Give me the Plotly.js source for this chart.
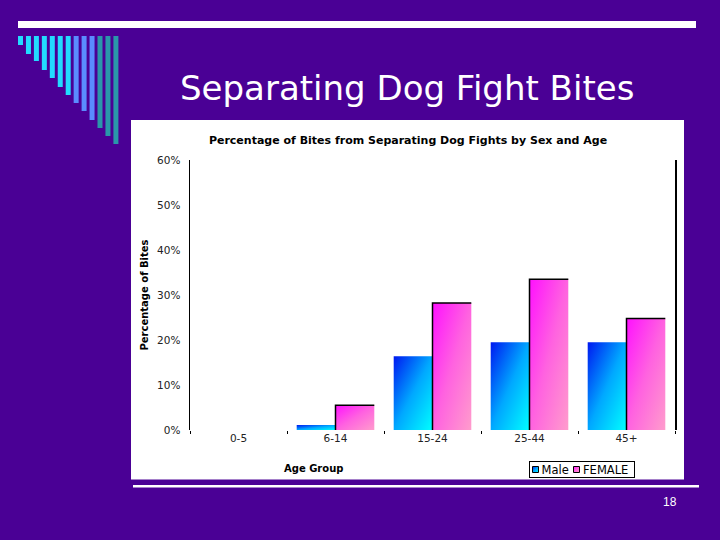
<!DOCTYPE html>
<html>
<head>
<meta charset="utf-8">
<script src="https://cdn.plot.ly/plotly-3.0.1.min.js"></script>
<style>
  html, body { margin: 0; padding: 0; background: #4a0095; }
  #chart { width: 720px; height: 540px; }
</style>
</head>
<body>
<div id="chart"></div>
<script>
// ---- data ----
const categories = ['0-5', '6-14', '15-24', '25-44', '45+'];
const maleValues = [0, 0.011, 0.164, 0.195, 0.195];
const femaleValues = [0, 0.055, 0.282, 0.335, 0.248];
const seriesNames = ['Male', 'FEMALE'];
const slideTitle = 'Separating Dog Fight Bites';
const chartTitle = 'Percentage of Bites from Separating Dog Fights by Sex and Age';
const yAxisTitle = 'Percentage of Bites';
const xAxisTitle = 'Age Group';
const pageNumber = '18';

// ---- layout helpers (pixel -> paper) ----
const L = 190, R = 675, T = 160, B = 430;
const px = x => (x - L) / (R - L);
const py = y => (B - y) / (B - T);

const FONT = 'Liberation Sans, Arial, sans-serif';
const CFONT = 'DejaVu Sans, Liberation Sans, Arial, sans-serif';
const BG = '#4a0095';

const shapes = [];
// white chart box
shapes.push({type: 'rect', xref: 'paper', yref: 'paper', layer: 'below',
  x0: px(131), x1: px(684), y0: py(479.5), y1: py(120),
  fillcolor: '#ffffff', line: {width: 0}});
// top white rule
shapes.push({type: 'rect', xref: 'paper', yref: 'paper',
  x0: px(18), x1: px(696), y0: py(28), y1: py(21),
  fillcolor: '#ffffff', line: {width: 0}});
// bottom white rule
shapes.push({type: 'rect', xref: 'paper', yref: 'paper',
  x0: px(133), x1: px(699), y0: py(487.5), y1: py(485),
  fillcolor: '#ffffff', line: {width: 0}});
// decorative staircase bars
const decoBottoms = [45, 54, 61, 70, 78, 87, 95, 103, 111, 120, 128, 136, 144];
decoBottoms.forEach((bot, i) => {
  const x0 = 18 + i * 7.95;
  const col = i < 7 ? '#22dcff' : (i < 10 ? '#5a8cff' : '#2a96aa');
  shapes.push({type: 'rect', xref: 'paper', yref: 'paper',
    x0: px(x0), x1: px(x0 + 5), y0: py(bot), y1: py(36),
    fillcolor: col, line: {width: 0}});
});

const annotations = [
  {text: slideTitle, xref: 'paper', yref: 'paper', x: px(407), y: py(88),
   xanchor: 'center', yanchor: 'middle', showarrow: false,
   font: {family: CFONT, size: 34, color: '#ffffff'}},
  {text: xAxisTitle, xref: 'paper', yref: 'paper', x: px(313), y: py(468),
   xanchor: 'center', yanchor: 'middle', showarrow: false,
   font: {family: CFONT, size: 10, color: '#000000', weight: 'bold'}},
  {text: pageNumber, xref: 'paper', yref: 'paper', x: px(670), y: py(502),
   xanchor: 'center', yanchor: 'middle', showarrow: false,
   font: {family: FONT, size: 12, color: '#ffffff'}}
];

const data = [
  {type: 'bar', name: seriesNames[0], x: categories, y: maleValues,
   marker: {color: '#0090ff', line: {width: 0}}},
  {type: 'bar', name: seriesNames[1], x: categories, y: femaleValues,
   marker: {color: '#ff60e0', line: {width: 0}}}
];

const layout = {
  width: 720, height: 540,
  paper_bgcolor: BG, plot_bgcolor: '#ffffff',
  margin: {l: L, r: 720 - R, t: T, b: 540 - B, pad: 0},
  font: {family: CFONT, color: '#000'},
  title: {text: chartTitle, xref: 'paper', x: px(408), xanchor: 'center',
    yref: 'container', y: 1 - 140 / 540, yanchor: 'middle',
    font: {family: CFONT, size: 11, color: '#000', weight: 'bold'}},
  barmode: 'group', bargap: 0.2, bargroupgap: 0,
  xaxis: {type: 'category', showgrid: false, zeroline: false, showline: false,
    ticks: 'outside', tickson: 'boundaries', ticklen: 3, tickcolor: '#000', tickwidth: 1,
    tickfont: {family: CFONT, size: 10.5, color: '#222'}, fixedrange: true},
  yaxis: {range: [0, 0.6], dtick: 0.1, tickformat: '.0%', showgrid: false,
    zeroline: false, showline: true, mirror: true, linecolor: '#000', linewidth: 1.5,
    ticks: '', ticklabelstandoff: 6,
    tickfont: {family: CFONT, size: 10.5, color: '#222'},
    title: {text: yAxisTitle, standoff: 6,
      font: {family: CFONT, size: 10, color: '#000', weight: 'bold'}}},
  showlegend: true,
  legend: {orientation: 'h', x: px(634), xanchor: 'right', y: py(461), yanchor: 'top',
    bgcolor: '#ffffff', bordercolor: '#000', borderwidth: 1,
    font: {family: CFONT, size: 11.5, color: '#000'}, itemwidth: 30,
    tracegroupgap: 0},
  shapes: shapes,
  annotations: annotations
};

const gd = document.getElementById('chart');
Plotly.newPlot(gd, data, layout, {staticPlot: true, displayModeBar: false}).then(() => {
  const NS = 'http://www.w3.org/2000/svg';
  const svg = document.createElementNS(NS, 'svg');
  svg.setAttribute('width', '0'); svg.setAttribute('height', '0');
  svg.style.position = 'absolute';
  const defs = document.createElementNS(NS, 'defs');
  function grad(id, stops) {
    const g = document.createElementNS(NS, 'linearGradient');
    g.setAttribute('id', id);
    g.setAttribute('x1', '0'); g.setAttribute('y1', '0');
    g.setAttribute('x2', '1'); g.setAttribute('y2', '1');
    stops.forEach(([o, c]) => {
      const s = document.createElementNS(NS, 'stop');
      s.setAttribute('offset', o); s.setAttribute('stop-color', c);
      g.appendChild(s);
    });
    defs.appendChild(g);
  }
  grad('gMale', [['0', '#0018f0'], ['0.5', '#00a8ff'], ['1', '#00ffff']]);
  grad('gFemale', [['0', '#ff10ff'], ['0.5', '#ff62e0'], ['1', '#ff9ccc']]);
  svg.appendChild(defs);
  document.body.insertBefore(svg, document.body.firstChild);

  const traces = gd.querySelectorAll('.barlayer .trace');
  if (traces[0]) traces[0].querySelectorAll('path').forEach(p => { p.style.fill = 'url(#gMale)'; });
  if (traces[1]) traces[1].querySelectorAll('path').forEach(p => {
    p.style.fill = 'url(#gFemale)';
    try {
      const bb = p.getBBox();
      if (bb.height > 0) {
        p.style.stroke = '#000';
        p.style.strokeWidth = '1.5px';
        p.style.strokeDasharray = (bb.width + bb.height) + ' ' + (bb.width + bb.height + 2);
      }
    } catch (e) {}
  });

  // compact legend, as in the original
  const leg = gd.querySelector('.infolayer .legend');
  if (leg) {
    leg.setAttribute('transform', 'translate(529.5,461.5)');
    const bg = leg.querySelector('rect.bg');
    if (bg) {
      bg.setAttribute('x', '0'); bg.setAttribute('y', '0');
      bg.setAttribute('width', '104.5'); bg.setAttribute('height', '16');
    }
    const sb = leg.querySelector('.scrollbox');
    if (sb) { sb.setAttribute('transform', 'translate(0,0)'); sb.removeAttribute('clip-path'); }
    const grp = leg.querySelector('.groups');
    if (grp) grp.removeAttribute('transform');
    const symX = [6, 47], txtX = [12, 53.5];
    const ids = ['gMale', 'gFemale'];
    leg.querySelectorAll('.traces').forEach((it, i) => {
      it.setAttribute('transform', 'translate(0,8)');
      it.querySelectorAll('.legendpoints path').forEach(p => {
        p.setAttribute('d', 'M3,3H-3V-3H3Z');
        p.setAttribute('transform', 'translate(' + symX[i] + ',0)');
        p.style.fill = 'url(#' + ids[i] + ')';
        p.style.stroke = '#000';
        p.style.strokeWidth = '1px';
      });
      const t = it.querySelector('.legendtext');
      if (t) t.setAttribute('x', String(txtX[i]));
      const tg = it.querySelector('.legendtoggle');
      if (tg) tg.remove();
    });
  }
});
</script>
</body>
</html>
